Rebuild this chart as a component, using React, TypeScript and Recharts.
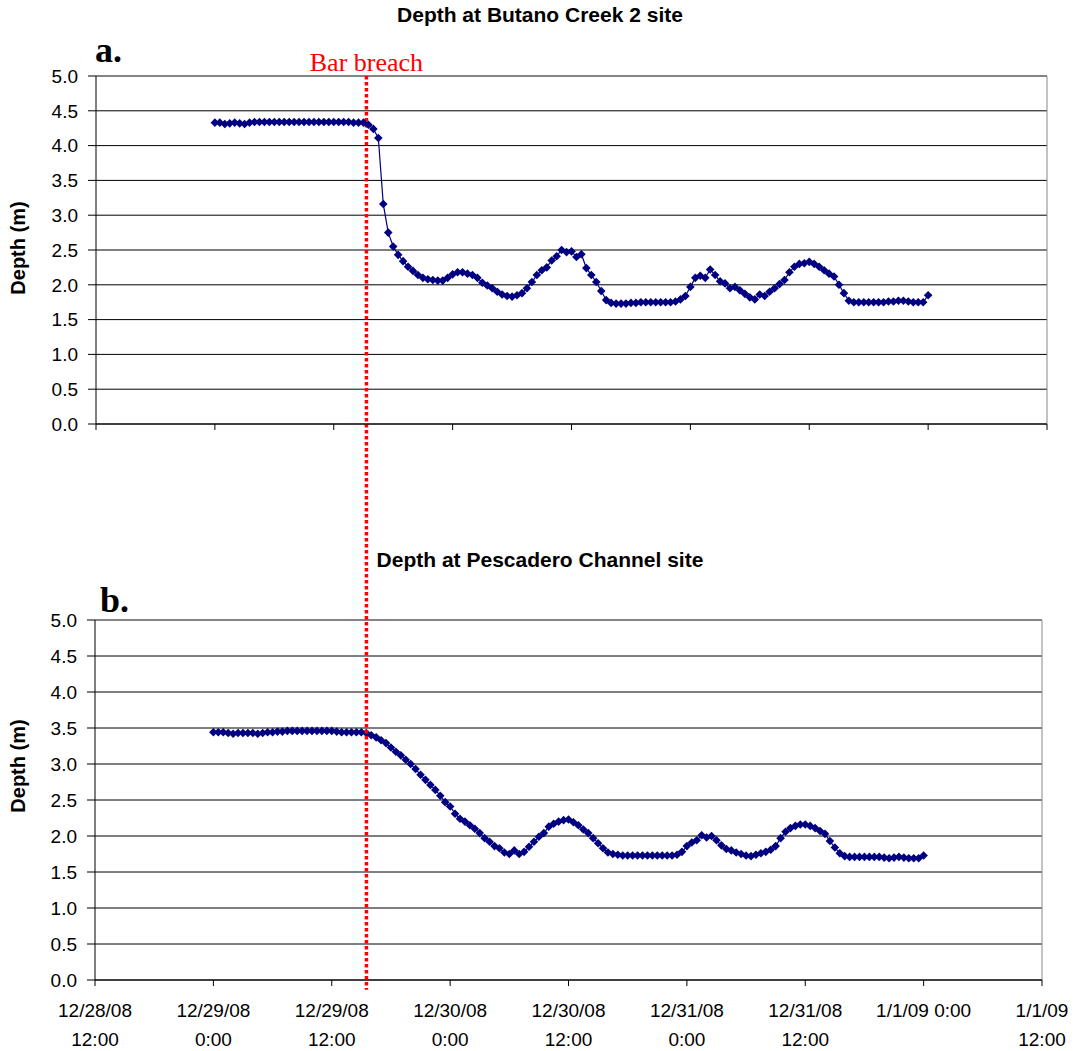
import React from 'react';
import { LineChart, Line, XAxis, YAxis, CartesianGrid, ReferenceLine } from 'recharts';

// hours counted from 12/28/08 12:00, readings every 30 min starting 12/29/08 0:00
const START_HOUR = 12;
const STEP_HOURS = 0.5;

const BUTANO_DEPTH = [
  4.33, 4.33, 4.31, 4.32, 4.33, 4.32, 4.31, 4.33, 4.34, 4.34,
  4.34, 4.34, 4.34, 4.34, 4.34, 4.34, 4.34, 4.34, 4.34, 4.34,
  4.34, 4.34, 4.34, 4.34, 4.34, 4.34, 4.34, 4.34, 4.33, 4.33,
  4.33, 4.30, 4.24, 4.11, 3.16, 2.75, 2.55, 2.43, 2.34, 2.26,
  2.20, 2.14, 2.10, 2.08, 2.07, 2.06, 2.06, 2.10, 2.15, 2.18,
  2.18, 2.16, 2.14, 2.10, 2.03, 1.99, 1.95, 1.90, 1.86, 1.84,
  1.83, 1.85, 1.88, 1.95, 2.04, 2.14, 2.21, 2.25, 2.35, 2.41,
  2.50, 2.47, 2.48, 2.40, 2.44, 2.24, 2.14, 2.04, 1.91, 1.78,
  1.74, 1.73, 1.73, 1.73, 1.74, 1.74, 1.75, 1.75, 1.75, 1.75,
  1.75, 1.75, 1.75, 1.76, 1.79, 1.84, 1.97, 2.10, 2.13, 2.10,
  2.22, 2.14, 2.05, 2.02, 1.95, 1.97, 1.92, 1.87, 1.82, 1.79,
  1.86, 1.84, 1.90, 1.95, 2.01, 2.07, 2.18, 2.26, 2.30, 2.31,
  2.33, 2.30, 2.26, 2.21, 2.16, 2.12, 2.00, 1.88, 1.77, 1.75,
  1.75, 1.75, 1.75, 1.75, 1.75, 1.75, 1.76, 1.76, 1.77, 1.77,
  1.76, 1.75, 1.75, 1.75, 1.85,
];

const PESCADERO_DEPTH = [
  3.44, 3.44, 3.44, 3.43, 3.42, 3.43, 3.43, 3.43, 3.43, 3.42,
  3.43, 3.44, 3.44, 3.45, 3.45, 3.46, 3.46, 3.46, 3.46, 3.46,
  3.46, 3.46, 3.46, 3.46, 3.46, 3.45, 3.44, 3.44, 3.44, 3.44,
  3.44, 3.43, 3.40, 3.37, 3.33, 3.29, 3.23, 3.17, 3.12, 3.06,
  3.00, 2.93, 2.85, 2.78, 2.71, 2.64, 2.56, 2.47, 2.41, 2.31,
  2.24, 2.20, 2.15, 2.10, 2.04, 1.97, 1.92, 1.86, 1.83, 1.77,
  1.75, 1.80, 1.75, 1.78, 1.85, 1.92, 1.99, 2.04, 2.13, 2.17,
  2.20, 2.22, 2.23, 2.19, 2.15, 2.09, 2.04, 1.97, 1.90, 1.83,
  1.77, 1.75, 1.74, 1.73, 1.73, 1.73, 1.73, 1.73, 1.73, 1.73,
  1.73, 1.73, 1.73, 1.73, 1.74, 1.78, 1.86, 1.91, 1.94, 2.01,
  1.98, 2.00, 1.94, 1.87, 1.82, 1.80, 1.77, 1.75, 1.73, 1.72,
  1.74, 1.76, 1.78, 1.81, 1.86, 1.97, 2.06, 2.11, 2.14, 2.16,
  2.16, 2.14, 2.11, 2.07, 2.03, 1.93, 1.84, 1.76, 1.72, 1.71,
  1.71, 1.71, 1.71, 1.71, 1.71, 1.71, 1.70, 1.69, 1.70, 1.71,
  1.70, 1.69, 1.69, 1.69, 1.73,
];

const X_TICKS = [0, 12, 24, 36, 48, 60, 72, 84, 96];
const X_TICK_LABELS = [
  ['12/28/08', '12:00'],
  ['12/29/08', '0:00'],
  ['12/29/08', '12:00'],
  ['12/30/08', '0:00'],
  ['12/30/08', '12:00'],
  ['12/31/08', '0:00'],
  ['12/31/08', '12:00'],
  ['1/1/09 0:00'],
  ['1/1/09', '12:00'],
];
const Y_TICKS = [0, 0.5, 1, 1.5, 2, 2.5, 3, 3.5, 4, 4.5, 5];

const BREACH_HOUR = 27.3; // ~12/29/08 15:20
const BREACH_LINE_BOTTOM = -8.13; // reaches down through panel b

const rows = BUTANO_DEPTH.map((v, i) => ({
  t: START_HOUR + i * STEP_HOURS,
  butano: v,
  pescadero: PESCADERO_DEPTH[i],
}));

const NAVY = '#000080';
const FONT = '"Liberation Sans", Arial, sans-serif';
const SERIF = '"Liberation Serif", "Times New Roman", serif';
const tickStyle = { fill: '#000', fontSize: 19, fontFamily: FONT };

const Diamond = (props: any) => {
  const { cx, cy, index } = props;
  if (cx == null || cy == null) return <g key={index} />;
  const r = 4.3;
  return (
    <polygon
      key={index}
      points={`${cx},${cy - r} ${cx + r},${cy} ${cx},${cy + r} ${cx - r},${cy}`}
      fill={NAVY}
    />
  );
};

const DateTick = (props: any) => {
  const { x, y, payload } = props;
  const idx = X_TICKS.indexOf(payload.value);
  const lines = X_TICK_LABELS[idx] || [];
  return (
    <text x={x} y={y} textAnchor="middle" style={tickStyle}>
      {lines.map((s, k) => (
        <tspan key={k} x={x} dy={k === 0 ? 29 : 29}>{s}</tspan>
      ))}
    </text>
  );
};

const YLabel = ({ top, children }: { top: number; children: React.ReactNode }) => (
  <div style={{
    position: 'absolute', left: 18, top, transform: 'translate(-50%, -50%) rotate(-90deg)',
    fontFamily: FONT, fontWeight: 'bold', fontSize: 20, whiteSpace: 'nowrap',
  }}>{children}</div>
);

const Title = ({ top, children }: { top: number; children: React.ReactNode }) => (
  <div style={{
    position: 'absolute', left: 0, width: 1080, top, textAlign: 'center',
    fontFamily: FONT, fontWeight: 'bold', fontSize: 21, lineHeight: '24px',
  }}>{children}</div>
);

const PanelTag = ({ left, top, children }: { left: number; top: number; children: React.ReactNode }) => (
  <div style={{
    position: 'absolute', left, top, fontFamily: SERIF, fontWeight: 'bold', fontSize: 36, lineHeight: '36px',
  }}>{children}</div>
);

export default function App() {
  return (
    <div style={{ position: 'absolute', left: 0, top: 0, width: 1076, height: 1051, background: '#fff', overflow: 'hidden' }}>
      <style>{`.recharts-surface { overflow: visible; }`}</style>

      <Title top={3}>Depth at Butano Creek 2 site</Title>
      <PanelTag left={95} top={32}>a.</PanelTag>
      <YLabel top={248}>Depth (m)</YLabel>

      <Title top={548}>Depth at Pescadero Channel site</Title>
      <PanelTag left={100} top={582}>b.</PanelTag>
      <YLabel top={766}>Depth (m)</YLabel>

      <div style={{ position: 'absolute', left: 0, top: 540, zIndex: 1 }}>
        <LineChart width={1076} height={511} data={rows} margin={{ top: 80, right: 34, left: 35, bottom: 0 }}>
          <CartesianGrid horizontal vertical={false} stroke="#000" />
          <XAxis
            type="number" dataKey="t" domain={[0, 96]} ticks={X_TICKS} interval={0}
            height={71} tickSize={6} tickMargin={2} stroke="#000" tick={<DateTick />}
          />
          <YAxis
            type="number" domain={[0, 5]} ticks={Y_TICKS} interval={0} width={60}
            tickSize={8} tickMargin={10} stroke="#000" tick={tickStyle}
            tickFormatter={(v: number) => v.toFixed(1)}
          />
          <ReferenceLine y={5} stroke="#888" />
          <ReferenceLine x={96} stroke="#888" />
          <Line
            dataKey="pescadero" stroke={NAVY} strokeWidth={1.2} dot={Diamond}
            activeDot={false} isAnimationActive={false}
          />
        </LineChart>
      </div>

      <div style={{ position: 'absolute', left: 0, top: 0, zIndex: 2 }}>
        <LineChart width={1076} height={440} data={rows} margin={{ top: 76, right: 29, left: 36, bottom: 0 }}>
          <CartesianGrid horizontal vertical={false} stroke="#000" />
          <XAxis
            type="number" dataKey="t" domain={[0, 96]} ticks={X_TICKS} interval={0}
            height={16} tickSize={6} stroke="#000" tickFormatter={() => ''}
          />
          <YAxis
            type="number" domain={[0, 5]} ticks={Y_TICKS} interval={0} width={60}
            tickSize={8} tickMargin={10} stroke="#000" tick={tickStyle}
            tickFormatter={(v: number) => v.toFixed(1)}
          />
          <ReferenceLine y={5} stroke="#888" />
          <ReferenceLine x={96} stroke="#888" />
          <Line
            dataKey="butano" stroke={NAVY} strokeWidth={1.2} dot={Diamond}
            activeDot={false} isAnimationActive={false}
          />
          <ReferenceLine
            ifOverflow="visible"
            segment={[{ x: BREACH_HOUR, y: 5 }, { x: BREACH_HOUR, y: BREACH_LINE_BOTTOM }]}
            stroke="#ff0000" strokeWidth={3.5} strokeDasharray="3.5 2.5"
            label={{ value: 'Bar breach', position: 'top', offset: 5, fill: '#ff0000', fontSize: 26, fontFamily: SERIF }}
          />
        </LineChart>
      </div>
    </div>
  );
}
